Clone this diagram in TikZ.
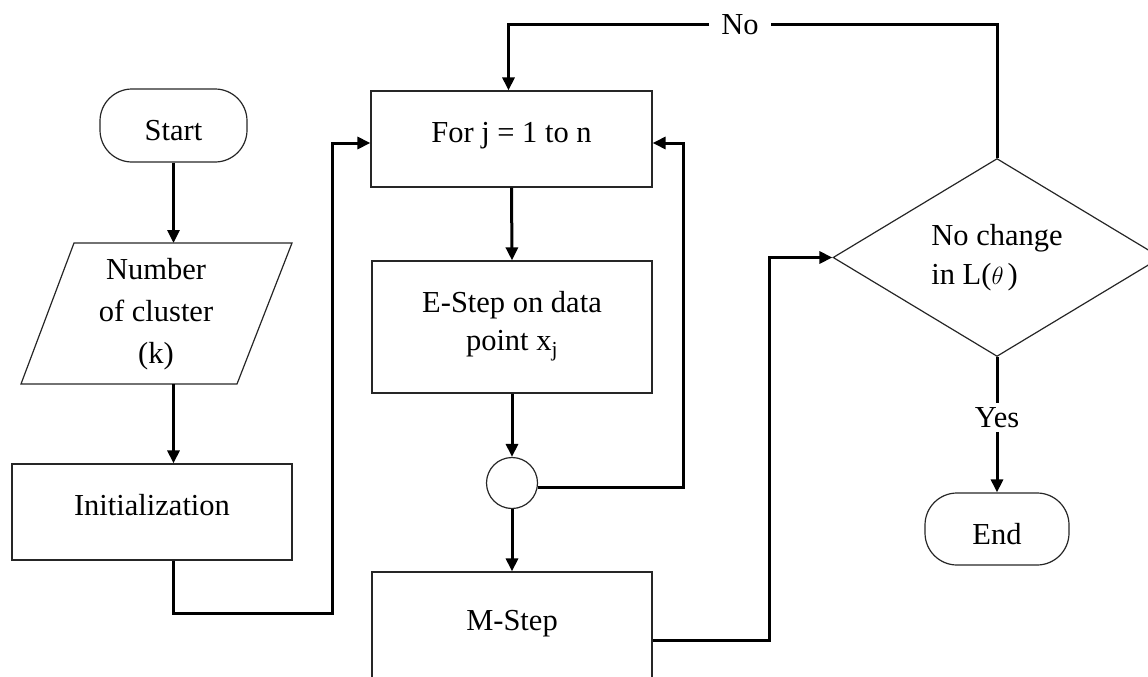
\documentclass[tikz,border=0pt]{standalone}
\usepackage{fontspec}
\setmainfont{Liberation Serif}
\usetikzlibrary{arrows.meta,shapes.geometric,calc}
\begin{document}
\begin{tikzpicture}[x=1pt,y=-1pt,
  font=\fontsize{30.5}{40}\selectfont,
  outline/.style={draw=black!85,line width=1.2pt,line join=miter},
  box/.style={outline,rectangle,inner sep=0pt},
  procbox/.style={box,text height=21pt,text depth=14pt},
  terminal/.style={box,rounded corners=32pt,text height=30pt,text depth=0pt},
  conn/.style={line width=3pt,line join=miter},
  flow/.style={conn,-{Triangle[length=13pt,width=12pt]}},
  tag/.style={inner xsep=12pt,inner ysep=4pt}
]
\useasboundingbox (0,0) rectangle (1148,677);
\clip (0,0) rectangle (1148,677);

% left column: start, input, initialisation
\node[terminal,minimum width=147pt,minimum height=73pt] (start) at (173.5,125.5) {Start};
\node[align=center,inner sep=0pt,font=\fontsize{30.5}{42}\selectfont] (num) at (156,314) {Number\\of cluster\\(k)};
\draw[outline] (74,243) -- (292,243) -- (237,384) -- (21,384) -- cycle;
\coordinate (numtop) at (173.5,243);
\coordinate (numbot) at (173.5,384);
\node[procbox,minimum width=280pt,minimum height=96pt] (init) at (152,512) {Initialization};

% middle column: loop over data points
\node[procbox,minimum width=281pt,minimum height=96pt] (for) at (511.5,139) {For j = 1 to n};
\node[box,align=center,text depth=12pt,minimum width=280pt,minimum height=132pt,
      font=\fontsize{30.5}{38}\selectfont] (estep) at (512,327) {E-Step on data\\point x\textsubscript{j}};
\node[box,circle,minimum size=51pt] (join) at (512,483) {};
\node[box,text height=21pt,text depth=41pt,minimum width=280pt,minimum height=136pt] (mstep) at (512,640) {M-Step};

% right column: convergence test and end
\node[outline,diamond,minimum width=328pt,minimum height=189pt,inner sep=0pt,align=left,
      font=\fontsize{30.5}{39}\selectfont] (test) at (997,257.5) {No change\\in L($\theta\,$)};
\node[terminal,minimum width=144pt,minimum height=72pt] (end) at (997,529) {End};
\node[tag] (yes) at (997,417.5) {Yes};
\node[tag] (no) at (740,25) {No};

% routing helpers
\coordinate (j1) at (332,613);
\coordinate (loopx) at (683,0);
\coordinate (mx) at (769,0);
\coordinate (forinl) at ([yshift=-4pt]for.west);
\coordinate (forinr) at ([yshift=-4pt]for.east);

% connectors
\draw[flow] (start.south) -- (numtop);
\draw[flow] (numbot) -- (numbot |- init.north);
\draw[flow] (init.south -| numbot) |- (j1) |- (forinl);
\draw[flow] (for.south) -- (estep.north);
\draw[flow] (estep.south) -- (join.north);
\draw[flow] (join.south) -- (mstep.north);
\draw[flow] (join.-11) -| (loopx |- forinr) -- (forinr);
\draw[flow] (mstep.east) -| (mx |- test.west) -- (test.west);
\draw[conn] (test.north) |- (no.east);
\draw[flow] (no.west) -| ([xshift=-3pt]for.north);
\draw[conn] (test.south) -- (yes.north);
\draw[flow] (yes.south) -- (end.north);
\end{tikzpicture}
\end{document}
